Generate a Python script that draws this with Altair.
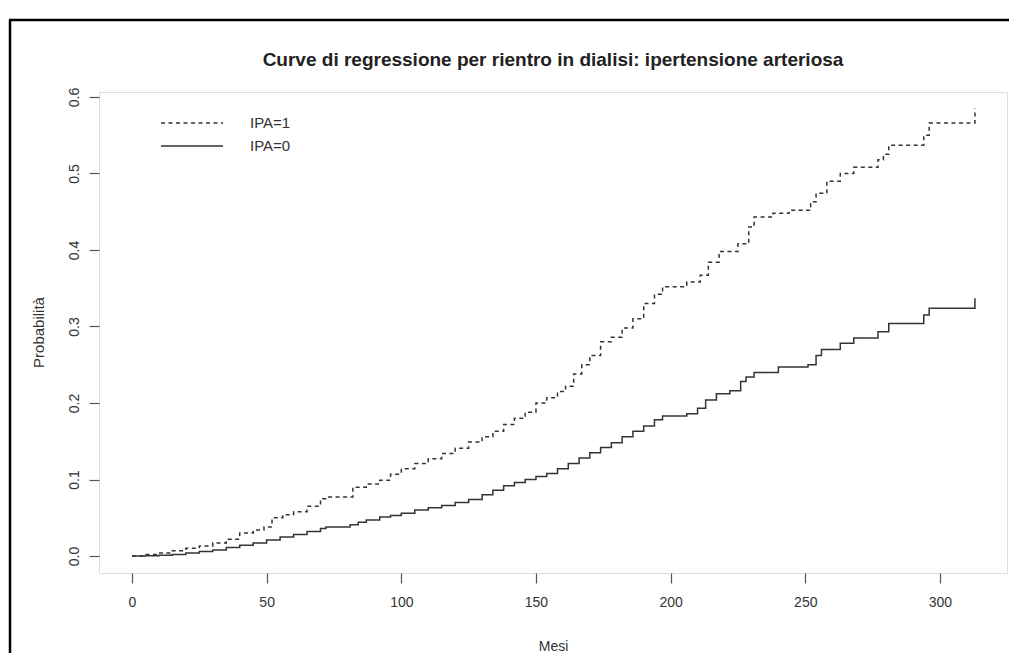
import altair as alt
import pandas as pd

# Kaplan-Meier style step curves
t1 = [0, 5, 10, 15, 20, 25, 30, 35, 40, 45, 49, 52, 56, 60, 65, 70, 72, 82, 87, 92, 96,
      100, 105, 110, 115, 120, 125, 130, 134, 138, 142, 146, 150, 154, 158, 161, 164, 167,
      170, 174, 178, 182, 186, 190, 194, 197, 206, 211, 214, 218, 225, 229, 231, 238, 244,
      252, 254, 258, 263, 268, 277, 279, 281, 294, 296, 313]
p1 = [0.000, 0.002, 0.004, 0.007, 0.010, 0.013, 0.017, 0.022, 0.030, 0.034, 0.038, 0.050,
      0.054, 0.058, 0.065, 0.075, 0.077, 0.090, 0.094, 0.099, 0.107, 0.114, 0.121, 0.127,
      0.134, 0.141, 0.149, 0.156, 0.163, 0.172, 0.180, 0.188, 0.200, 0.207, 0.215, 0.222,
      0.238, 0.250, 0.262, 0.280, 0.286, 0.298, 0.310, 0.330, 0.342, 0.352, 0.358, 0.367,
      0.384, 0.398, 0.408, 0.430, 0.443, 0.448, 0.452, 0.463, 0.474, 0.490, 0.500, 0.508,
      0.518, 0.525, 0.537, 0.550, 0.566, 0.585]

t0 = [0, 5, 10, 15, 20, 25, 30, 35, 40, 45, 50, 55, 60, 65, 70, 72, 81, 84, 87, 92, 96,
      100, 105, 110, 115, 120, 125, 130, 134, 138, 142, 146, 150, 154, 158, 162, 166, 170,
      174, 178, 182, 186, 190, 194, 197, 206, 210, 213, 217, 222, 226, 228, 231, 240, 251,
      254, 256, 263, 268, 277, 281, 294, 296, 313]
p0 = [0.000, 0.0005, 0.001, 0.002, 0.004, 0.006, 0.008, 0.011, 0.014, 0.017, 0.021, 0.025,
      0.028, 0.032, 0.036, 0.038, 0.041, 0.044, 0.047, 0.051, 0.053, 0.056, 0.060, 0.063,
      0.066, 0.070, 0.074, 0.080, 0.086, 0.092, 0.096, 0.100, 0.104, 0.108, 0.114, 0.121,
      0.128, 0.135, 0.142, 0.148, 0.156, 0.163, 0.170, 0.178, 0.183, 0.186, 0.193, 0.204,
      0.212, 0.216, 0.228, 0.234, 0.240, 0.247, 0.250, 0.262, 0.270, 0.278, 0.285, 0.293,
      0.304, 0.315, 0.324, 0.337]

groups = ["IPA=1", "IPA=0"]
x_ticks = [0, 50, 100, 150, 200, 250, 300]
y_ticks = [0.0, 0.1, 0.2, 0.3, 0.4, 0.5, 0.6]

df = pd.concat([
    pd.DataFrame({"Mesi": t1, "Prob": p1, "grp": groups[0], "ord": range(len(t1))}),
    pd.DataFrame({"Mesi": t0, "Prob": p0, "grp": groups[1], "ord": range(len(t0))}),
])

FONT = "Liberation Sans"
W, H = 908, 481

lines = alt.Chart(df).mark_line(
    interpolate="step-after", color="#333333", strokeWidth=1.5
).encode(
    x=alt.X("Mesi:Q",
            scale=alt.Scale(domain=[-12.25, 324.9], nice=False, zero=False),
            axis=alt.Axis(values=x_ticks, title="Mesi", domain=False, grid=False,
                          tickSize=10, tickColor="#555555", tickWidth=1.2,
                          labelFont=FONT, labelFontSize=14, labelColor="#333333",
                          labelPadding=12, titleFont=FONT, titleFontSize=14,
                          titleFontWeight="normal", titleColor="#333333",
                          titleY=73, titleBaseline="middle")),
    y=alt.Y("Prob:Q",
            scale=alt.Scale(domain=[-0.0222, 0.6065], nice=False, zero=False),
            axis=alt.Axis(values=y_ticks, format=".1f", title="Probabilità",
                          domain=False, grid=False, tickSize=10, tickColor="#555555",
                          tickWidth=1.2, labelAngle=270, labelAlign="center",
                          labelBaseline="bottom", labelFont=FONT, labelFontSize=14,
                          labelColor="#333333", labelPadding=8, titleFont=FONT,
                          titleFontSize=15, titleFontWeight="normal",
                          titleColor="#333333", titleX=-61, titleY=240,
                          titleAngle=270, titleAlign="center",
                          titleBaseline="middle")),
    strokeDash=alt.StrokeDash(
        "grp:N",
        scale=alt.Scale(domain=groups, range=[[4, 3.5], [1, 0]]),
        legend=alt.Legend(title=None, orient="none", legendX=82, legendY=20,
                          symbolType="M-3.1,0H3.1", symbolSize=400,
                          symbolStrokeColor="#333333", symbolStrokeWidth=1.5,
                          symbolFillColor="transparent",
                          labelFont=FONT, labelFontSize=15, labelColor="#333333",
                          labelOffset=47, rowPadding=4, padding=0)),
    order="ord:Q",
)

one = pd.DataFrame({"k": [0]})
frame_v = alt.Chart(one).mark_rule(color="black", strokeWidth=2.5).encode(
    x=alt.value(-89), y=alt.value(-72), y2=alt.value(700))
frame_h = alt.Chart(one).mark_rule(color="black", strokeWidth=2.5).encode(
    x=alt.value(-90), x2=alt.value(1000), y=alt.value(-72))

chart = alt.layer(lines, frame_v, frame_h).properties(
    width=W, height=H,
    title=alt.Title("Curve di regressione per rientro in dialisi: ipertensione arteriosa",
                    font=FONT, fontSize=19, fontWeight="bold", color="#222222",
                    anchor="middle", frame="group", offset=0, dy=70,
                    baseline="bottom"),
    autosize=alt.AutoSizeParams(type="none"),
    padding={"left": 91, "top": 84, "right": 2, "bottom": 80},
).configure_view(stroke="#555555", strokeWidth=1.5).configure(background="white")

chart.save("out.html", embed_options={"renderer": "svg", "actions": False})
